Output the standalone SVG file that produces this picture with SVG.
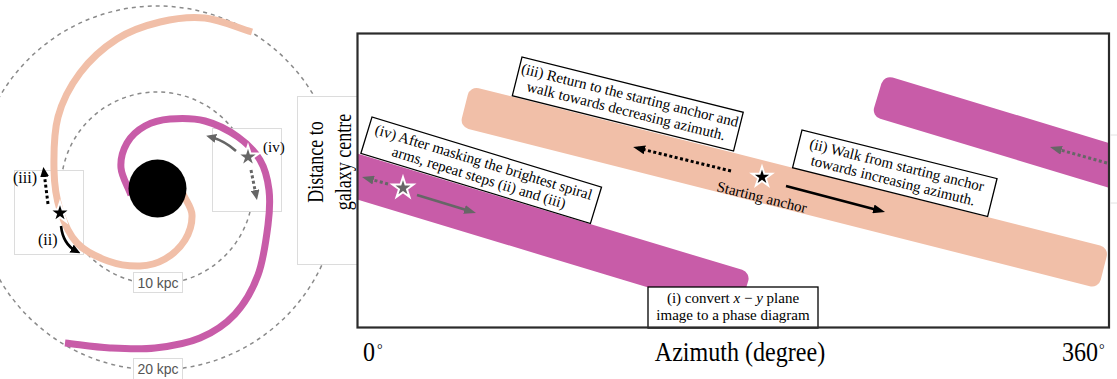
<svg xmlns="http://www.w3.org/2000/svg" width="1117" height="379" viewBox="0 0 1117 379">
  <defs>
    <style>
      .serif{font-family:"Liberation Serif","Times New Roman",serif;fill:#000}
      .note rect{fill:#fff;stroke:#000;stroke-width:1.3}
      .note text{font-family:"Liberation Serif","Times New Roman",serif;font-size:15px;text-anchor:middle;fill:#000}
      .ring{fill:none;stroke:#8a8a8a;stroke-width:1.5;stroke-dasharray:4 4}
      .inset{fill:#fff;stroke:#dcdcdc;stroke-width:1}
      .kpc{font-family:"Liberation Sans",Arial,sans-serif;font-size:14px;fill:#555;text-anchor:middle}
      .arm{fill:none;stroke-width:7;stroke-linecap:butt}
      .peach{fill:#f1bfa8}
      .magenta{fill:#c85ca8}
      .solidK{fill:none;stroke:#000;stroke-width:2.6}
      .dotK{fill:none;stroke:#000;stroke-width:3;stroke-dasharray:3 2.5}
      .solidG{fill:none;stroke:#666;stroke-width:2.6}
      .dotG{fill:none;stroke:#666;stroke-width:3;stroke-dasharray:3 2.5}
      .starW{stroke:#fff;stroke-width:1.8;stroke-linejoin:miter}
    </style>
    <path id="star" d="M0,-10 L2.245,-3.09 L9.511,-3.09 L3.633,1.18 L5.878,8.09 L0,3.82 L-5.878,8.09 L-3.633,1.18 L-9.511,-3.09 L-2.245,-3.09 Z"/>
    <marker id="headK" markerUnits="userSpaceOnUse" markerWidth="12" markerHeight="9" refX="7" refY="4.5" orient="auto" viewBox="0 0 12 9">
      <path d="M0,0 L12,4.5 L0,9 Z" fill="#000"/>
    </marker>
    <marker id="headG" markerUnits="userSpaceOnUse" markerWidth="12" markerHeight="9" refX="7" refY="4.5" orient="auto" viewBox="0 0 12 9">
      <path d="M0,0 L12,4.5 L0,9 Z" fill="#666"/>
    </marker>
    <marker id="headKs" markerUnits="userSpaceOnUse" markerWidth="10" markerHeight="9" refX="5" refY="4.5" orient="auto" viewBox="0 0 10 9">
      <path d="M0,0 L10,4.5 L0,9 Z" fill="#000"/>
    </marker>
    <marker id="headGs" markerUnits="userSpaceOnUse" markerWidth="10" markerHeight="9" refX="5" refY="4.5" orient="auto" viewBox="0 0 10 9">
      <path d="M0,0 L10,4.5 L0,9 Z" fill="#666"/>
    </marker>
    <clipPath id="plotArea">
      <rect x="358" y="34" width="750" height="293"/>
    </clipPath>
  </defs>

  <rect width="1117" height="379" fill="#fff"/>

  <!-- face-on galaxy sketch -->
  <g id="galaxy">
    <circle class="ring" cx="157" cy="188" r="182"/>
    <circle class="ring" cx="157" cy="188" r="96"/>

    <rect class="inset" x="14.5" y="170.5" width="69" height="84"/>
    <rect class="inset" x="212.5" y="128.5" width="69" height="83"/>
    <rect class="inset" x="133.5" y="272.5" width="49" height="20"/>
    <text class="kpc" x="158" y="288">10 kpc</text>
    <rect class="inset" x="133.5" y="358.5" width="49" height="21"/>
    <text class="kpc" x="158" y="374">20 kpc</text>

    <!-- trailing arms, smooth cubic segments -->
    <path class="arm" stroke="#f1bfa8" d="M183,194 C186,201 191.7,207.3 192,215 C192.3,222.7 189.5,232.7 185,240 C180.5,247.3 172.5,254.7 165,259 C157.5,263.3 149.5,265.7 140,266 C130.5,266.3 118.5,264.8 108,261 C97.5,257.2 85,251.5 77,243 C69,234.5 63.8,222.2 60,210 C56.2,197.8 54.3,185.5 54,170 C53.7,154.5 53.7,133.2 58,117 C62.3,100.8 70.2,86 80,73 C89.8,60 103.7,47.5 117,39 C130.3,30.5 145.3,25.5 160,22 C174.7,18.5 189.7,16.3 205,18 C220.3,19.7 236.3,27.3 252,32"/>
    <path class="arm" stroke="#c85ca8" d="M131,195 C127.7,186 121.7,176.7 121,168 C120.3,159.3 123,150 127,143 C131,136 137.8,130 145,126 C152.2,122 160,119.8 170,119 C180,118.2 193.7,118 205,121 C216.3,124 228.8,130.5 238,137 C247.2,143.5 254.8,151.2 260,160 C265.2,168.8 267.7,179.2 269,190 C270.3,200.8 269.8,210.8 268,225 C266.2,239.2 263.5,260.2 258,275 C252.5,289.8 244.7,303.5 235,314 C225.3,324.5 213.3,332.3 200,338 C186.7,343.7 170,346.3 155,348 C140,349.7 125,348.8 110,348 C95,347.2 80,344.7 65,343"/>
    <circle cx="157.5" cy="188.5" r="29" fill="#000"/>

    <path class="solidK" d="M61,226 Q63,244 76,251" marker-end="url(#headKs)"/>
    <path class="dotK" d="M48,204 L44,172" marker-end="url(#headKs)"/>
    <use href="#star" class="starW" fill="#000" transform="translate(60,213) scale(1.1)"/>
    <text class="serif" x="13" y="183" font-size="16">(iii)</text>
    <text class="serif" x="38" y="245" font-size="16">(ii)</text>

    <path class="solidG" d="M236,151 Q225,141 211,137" marker-end="url(#headGs)"/>
    <path class="dotG" d="M251,170 L256,195" marker-end="url(#headGs)"/>
    <use href="#star" class="starW" fill="#666" transform="translate(248,157) scale(1.15)"/>
    <text class="serif" x="263" y="152" font-size="15">(iv)</text>
  </g>

  <!-- vertical axis title -->
  <g id="y-label">
    <rect class="inset" x="297.5" y="96.5" width="70" height="168"/>
    <text class="serif" font-size="24" text-anchor="middle" transform="translate(323,162) rotate(-90) scale(0.75,1)">Distance to</text>
    <text class="serif" font-size="24" text-anchor="middle" transform="translate(351,162) rotate(-90) scale(0.75,1)">galaxy centre</text>
  </g>

  <!-- phase diagram -->
  <g id="phase-plot">
    <rect x="357.5" y="33.5" width="751.5" height="294" fill="#fff"/>
    <g clip-path="url(#plotArea)">
      <rect class="peach" x="0" y="0" width="659" height="42" rx="9" transform="translate(470,86) rotate(14.2)"/>
      <rect class="magenta" x="0" y="0" width="450" height="44" rx="9" transform="translate(320,142.4) rotate(16.8)"/>
      <rect class="magenta" x="0" y="0" width="320" height="43" rx="9" transform="translate(884,75) rotate(16.8)"/>
    </g>
  </g>

  <g id="connectors">
    <path class="solidK" d="M786,186 L880.2,210.7" marker-end="url(#headK)"/>
    <path class="dotK" d="M731,171 L638,148.2" marker-end="url(#headK)"/>
    <path class="solidG" d="M417,195 L471.2,211.5" marker-end="url(#headG)"/>
    <path class="dotG" d="M388,184 L366.8,178.3" marker-end="url(#headG)"/>
    <path class="dotG" d="M1107,163 L1054.8,148.4" marker-end="url(#headG)"/>
  </g>

  <g id="start-anchor">
    <use href="#star" class="starW" fill="#000" transform="translate(762,177) scale(1.05)"/>
    <text class="serif" font-size="15" transform="translate(716,191) rotate(14)">Starting anchor</text>
  </g>
  <g id="offset-anchor">
    <use href="#star" class="starW" fill="#666" transform="translate(403,188) scale(1.1)"/>
  </g>

  <g id="step-iii" class="note" transform="translate(522,57) rotate(14)">
    <rect width="228" height="40"/>
    <text x="114" y="16">(iii) Return to the starting anchor and</text>
    <text x="114" y="32">walk towards decreasing azimuth.</text>
  </g>
  <g id="step-ii" class="note" transform="translate(802,130) rotate(14)">
    <rect width="201" height="39"/>
    <text x="100.5" y="16">(ii) Walk from starting anchor</text>
    <text x="100.5" y="32">towards increasing azimuth.</text>
  </g>
  <g id="step-iv" class="note" transform="translate(372,117) rotate(17)">
    <rect width="240" height="38"/>
    <text x="120" y="15.5">(iv) After masking the brightest spiral</text>
    <text x="120" y="31.5">arms, repeat steps (ii) and (iii)</text>
  </g>
  <g id="step-i" class="note">
    <rect x="648" y="287" width="170" height="41"/>
    <text x="733" y="303">(i) convert <tspan font-style="italic">x</tspan> − <tspan font-style="italic">y</tspan> plane</text>
    <text x="733" y="320">image to a phase diagram</text>
  </g>

  <rect x="357.5" y="33.5" width="751.5" height="294" fill="none" stroke="#2b2b2b" stroke-width="2.2"/>
  <line x1="1110" y1="135" x2="1117" y2="135" stroke="#e2e2e2"/>
  <line x1="1110" y1="203" x2="1117" y2="203" stroke="#e2e2e2"/>

  <!-- horizontal axis -->
  <g id="x-axis" class="serif">
    <text font-size="28" transform="translate(363,361) scale(0.86,1)">0</text>
    <text font-size="14" x="377" y="354">°</text>
    <text font-size="28" text-anchor="middle" transform="translate(740,361) scale(0.86,1)">Azimuth (degree)</text>
    <text font-size="28" transform="translate(1062,361) scale(0.86,1)">360</text>
    <text font-size="14" x="1099" y="354">°</text>
  </g>
</svg>
